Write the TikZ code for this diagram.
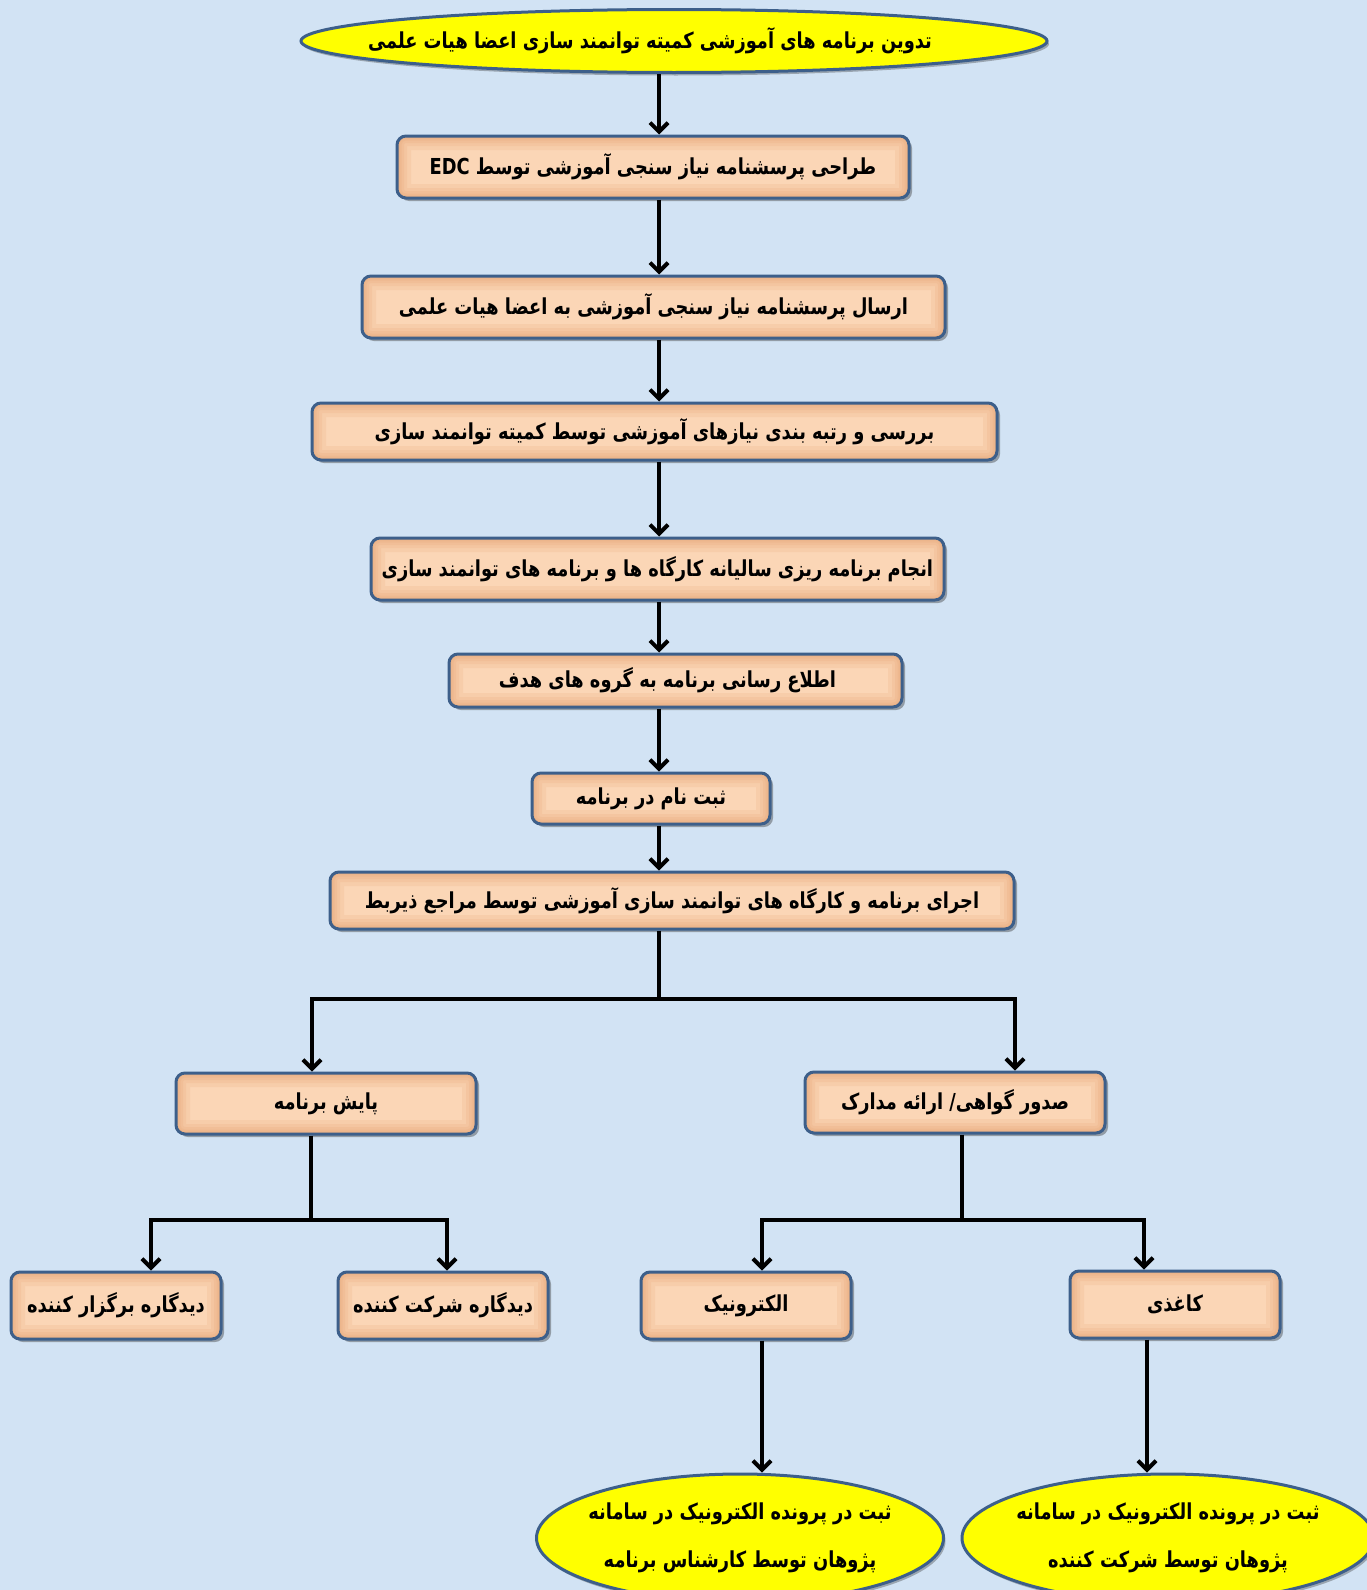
\documentclass[tikz,border=0pt]{standalone}
\usepackage{fontspec}
\usetikzlibrary{arrows.meta,shapes.geometric,shadows,calc}
\TeXXeTstate=1
\newfontfamily\fa[Script=Arabic, FakeStretch=0.81]{DejaVu Sans}
\newcommand\rtl[1]{{\beginR #1\endR}}
\newcommand\zw[1]{\makebox[0pt]{\rtl{#1}}}
\definecolor{bg}{HTML}{D2E3F4}
\definecolor{peach}{HTML}{FBD6B6}
\definecolor{peachdark}{HTML}{E0965F}
\definecolor{bord}{HTML}{3D5F8A}
\definecolor{ylw}{HTML}{FFFF00}
\definecolor{ylwdark}{HTML}{7A7A20}
\pgfdeclareradialshading{ellsh}{\pgfpoint{0bp}{0bp}}{color(0bp)=(ylw); color(30bp)=(ylw); color(42bp)=(ylw!82!black); color(50bp)=(ylwdark)}
\tikzset{
  txt/.style={font=\fa\bfseries\fontsize{22}{26}\selectfont, text=black},
  glow/.style={peachdark, line width=#1, opacity=0.13, rounded corners=9pt},
  box/.style={txt, draw=bord, line width=3pt, rounded corners=9pt, fill=peach,
    inner sep=0pt,
    drop shadow={shadow xshift=3pt, shadow yshift=-3pt, opacity=0.4, fill=black!80},
    path picture={
      \foreach \w in {28pt,20pt,14pt,9pt,5pt}{
      \draw[glow=\w]
        (path picture bounding box.south west) rectangle (path picture bounding box.north east);}
    }},
  ell/.style={txt, ellipse, draw=bord, line width=3pt, shading=ellsh, inner sep=0pt,
    drop shadow={shadow xshift=2pt, shadow yshift=-3pt, opacity=0.35, fill=black!80}},
  ln/.style={line width=4pt, black},
  arr/.style={ln, -{Straight Barb[length=9pt,width=18pt]}}
}
\begin{document}
\begin{tikzpicture}[x=1pt,y=-1pt]
\useasboundingbox (0,0) rectangle (1367,1590);
\fill[bg] (0,0) rectangle (1367,1590);

\coordinate (mx) at (659,0);

\node[ell, minimum width=746pt, minimum height=63pt] (top) at (674,41)
  {\makebox[0pt]{\rtl{تدوین برنامه های آموزشی کمیته توانمند سازی اعضا هیات علمی}\hspace*{48pt}}};
\node[box, minimum width=512pt, minimum height=62pt] (b1) at (653,167)
  {\rtl{طراحی پرسشنامه نیاز سنجی آموزشی توسط \beginL EDC\endL}};
\node[box, minimum width=583pt, minimum height=62pt] (b2) at (653.5,307)
  {\rtl{ارسال پرسشنامه نیاز سنجی آموزشی به اعضا هیات علمی}};
\node[box, minimum width=685pt, minimum height=57pt] (b3) at (654.5,431.5)
  {\rtl{بررسی و رتبه بندی نیازهای آموزشی توسط کمیته توانمند سازی}};
\node[box, minimum width=573pt, minimum height=62pt] (b4) at (657.5,569)
  {\rtl{انجام برنامه ریزی سالیانه کارگاه ها و برنامه های توانمند سازی}};
\node[box, minimum width=453pt, minimum height=53pt] (b5) at (675.5,680.5)
  {\rtl{اطلاع رسانی برنامه به گروه های هدف}\hspace*{16pt}};
\node[box, minimum width=238pt, minimum height=51pt] (b6) at (651,798.5)
  {\rtl{ثبت نام در برنامه}};
\node[box, minimum width=684pt, minimum height=57pt] (b7) at (672,900.5)
  {\rtl{اجرای برنامه و کارگاه های توانمند سازی آموزشی توسط مراجع ذیربط}};

\node[box, minimum width=300pt, minimum height=61pt] (pb) at (326,1103.5)
  {\rtl{پایش برنامه}};
\node[box, minimum width=300pt, minimum height=61pt] (sd) at (955,1102.5)
  {\rtl{صدور گواهی/ ارائه مدارک}};

\node[box, minimum width=210pt, minimum height=67pt] (d1) at (116,1305.5)
  {\rtl{دیدگاره برگزار کننده}};
\node[box, minimum width=210pt, minimum height=67pt] (d2) at (443,1305.5)
  {\rtl{دیدگاره شرکت کننده}};
\node[box, minimum width=210pt, minimum height=67pt] (el) at (746,1305.5)
  {\rtl{الکترونیک}};
\node[box, minimum width=210pt, minimum height=67pt] (kg) at (1175,1304.5)
  {\rtl{کاغذی}};

\node[ell, minimum width=407pt, minimum height=128pt, align=center] (eL) at (740,1538)
  {\zw{ثبت در  پرونده الکترونیک در سامانه}\\[22pt]\zw{پژوهان توسط کارشناس برنامه}};
\node[ell, minimum width=412pt, minimum height=128pt, align=center] (eR) at (1168,1538)
  {\zw{ثبت در  پرونده الکترونیک در سامانه}\\[22pt]\zw{پژوهان توسط شرکت کننده}};

% main spine
\draw[arr] (mx |- top.south) -- (mx |- b1.north);
\draw[arr] (mx |- b1.south) -- (mx |- b2.north);
\draw[arr] (mx |- b2.south) -- (mx |- b3.north);
\draw[arr] (mx |- b3.south) -- (mx |- b4.north);
\draw[arr] (mx |- b4.south) -- (mx |- b5.north);
\draw[arr] (mx |- b5.south) -- (mx |- b6.north);
\draw[arr] (mx |- b6.south) -- (mx |- b7.north);

% first split
\coordinate (j1) at (659,999);
\coordinate (xp) at (312,0);
\coordinate (xs) at (1015,0);
\draw[ln] (mx |- b7.south) -- (j1);
\draw[arr] (j1) -| (xp |- pb.north);
\draw[arr] (j1) -| (xs |- sd.north);

% split under pb
\coordinate (xpb) at (311,0);
\coordinate (j2) at (311,1220);
\coordinate (xd1) at (151,0);
\coordinate (xd2) at (447,0);
\draw[ln] (xpb |- pb.south) -- (j2);
\draw[arr] (j2) -| (xd1 |- d1.north);
\draw[arr] (j2) -| (xd2 |- d2.north);

% split under sd
\coordinate (xsd) at (962,0);
\coordinate (j3) at (962,1220);
\coordinate (xel) at (762,0);
\coordinate (xkg) at (1144,0);
\draw[ln] (xsd |- sd.south) -- (j3);
\draw[arr] (j3) -| (xel |- el.north);
\draw[arr] (j3) -| (xkg |- kg.north);

% to bottom ellipses
\draw[arr] (xel |- el.south) -- (xel |- eL.north);
\coordinate (xk2) at (1147,0);
\draw[arr] (xk2 |- kg.south) -- (xk2 |- eR.north);
\end{tikzpicture}
\end{document}
